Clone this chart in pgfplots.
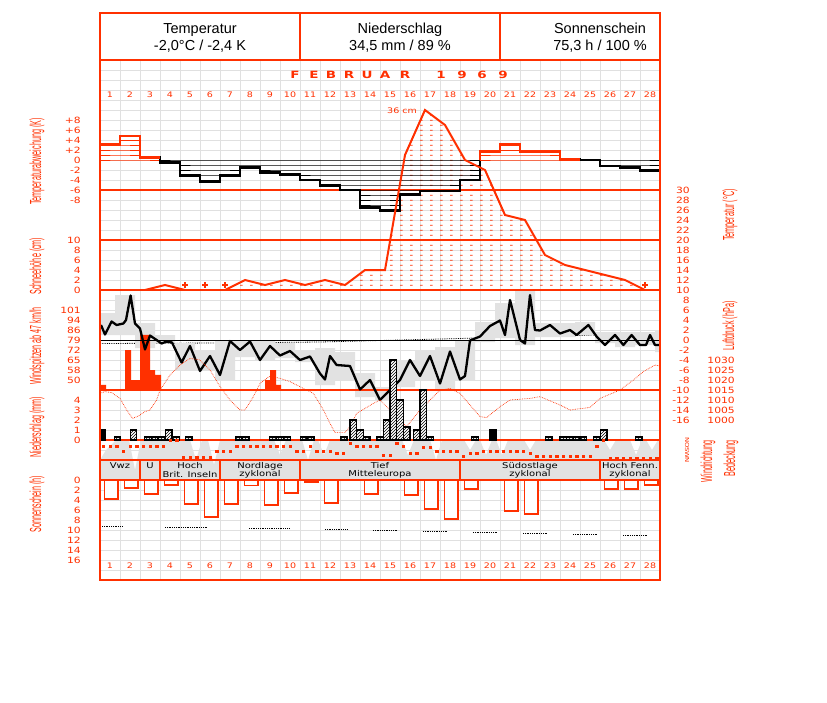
\documentclass[border=0pt]{standalone}
\usepackage{fontspec}
\setmainfont{Liberation Sans}
\newfontfamily\pixw[FakeStretch=1.25]{DejaVu Sans}
\newfontfamily\pixb[FakeStretch=1.35]{DejaVu Sans Bold}
\newfontfamily\narrow[FakeStretch=0.45]{Liberation Sans}
\usepackage{pgfplots}
\pgfplotsset{compat=1.18}
\usepackage{pgfplotstable}
\usetikzlibrary{patterns,patterns.meta}

\definecolor{dwdred}{RGB}{255,48,0}
\definecolor{gridgray}{RGB}{224,224,224}
\definecolor{blockgray}{RGB}{226,226,226}

\tikzdeclarepattern{
  name=snowdash, type=uncolored,
  bottom left={(0pt,0pt)}, top right={(10pt,5pt)}, tile size={(10pt,5pt)},
  code={\draw[line width=1pt] (0pt,2pt) -- (3pt,2pt);}
}

\pgfplotsset{
  panel/.style={scale only axis, width=560pt, height=520pt, anchor=north west,
    at={(100pt,-60pt)}, xmin=0, xmax=28, axis line style={draw=none},
    tick style={draw=none}, xtick=\empty, ytick=\empty},
  leftlab/.style={yticklabel style={font=\pixw\fontsize{8.6}{8.6}\selectfont,
    text=dwdred, anchor=east, inner sep=0pt, xshift=-19pt}},
  rightlab/.style={yticklabel pos=right, yticklabel style={font=\pixw\fontsize{8.6}{8.6}\selectfont,
    text=dwdred, anchor=east, inner sep=0pt, xshift=#1}},
}

% temperature deviation (K), one value per day, x = day-1
\pgfplotstableread{
x v
0 3.1
1 4.8
2 0.5
3 -0.5
4 -3.1
5 -4.3
6 -3.1
7 -1.5
8 -2.5
9 -2.9
10 -4.0
11 -5.1
12 -6.0
13 -9.5
14 -10.1
15 -6.9
16 -6.2
17 -6.2
18 -4.0
19 1.7
20 3.2
21 1.7
22 1.7
23 0.1
24 0.0
25 -1.2
26 -1.5
27 -2.1
28 -2.1
}\devtab

% snow depth (cm), morning values
\pgfplotstableread{
x s
0 0
2.25 0
3.25 1
4.25 0
6.25 0
7.25 2
8.25 1
9.25 2
10.25 1
11.25 2
12.25 1
13.25 4
14.25 4
15.25 27
16.25 36
17.25 33
18.25 26
19.25 24
20.25 15
21.25 14
22.25 7
23.25 5
24.25 4
25.25 3
26.25 2
27.25 0
28 0
}\snowtab

% daily temperature range (C)
\pgfplotstableread{
x tmax tmin
-0.25 5.4 1.0
0.75 9.0 1.0
1.75 3.4 -1.6
2.75 1.0 -0.6
3.75 -0.6 -6.0
4.75 -2.0 -6.0
5.75 0.0 -8.0
6.75 0.0 -3.4
7.75 0.0 -4.0
8.75 -0.6 -3.6
9.75 -2.0 -4.4
10.75 -1.6 -9.0
11.75 -2.4 -8.0
12.75 -6.6 -11.4
13.75 -9.4 -12.0
14.75 -4.0 -9.4
15.75 -2.0 -8.0
16.75 -1.4 -10.0
17.75 0.0 -8.0
18.75 3.6 -0.4
19.75 7.4 0.4
20.75 10.0 -1.0
21.75 3.4 0.6
22.75 3.4 0.6
23.75 3.6 1.0
24.75 1.6 -0.6
25.75 1.6 -1.4
26.75 1.6 -1.0
27.75 2.0 -2.4
28 2.0 -2.4
}\rangetab

% air temperature (C)
\pgfplotstableread{
x t
0.05 3.0
0.25 1.1
0.58 3.7
0.83 3.0
1.17 3.3
1.30 4.0
1.53 8.9
1.75 3.3
2.0 2.3
2.25 -1.9
2.5 0.9
2.83 0.0
3.08 -0.7
3.33 -0.3
3.6 -0.5
4.08 -4.5
4.5 -1.2
5.0 -6.2
5.5 -3.2
6.0 -7.0
6.5 -0.2
7.0 -2.0
7.5 -0.3
8.0 -4.0
8.5 -1.2
9.0 -3.1
9.5 -2.2
10.0 -4.0
10.5 -3.3
11.0 -6.7
11.25 -7.9
11.5 -3.2
11.83 -5.0
12.5 -5.2
13.0 -9.9
13.5 -8.0
14.0 -12.0
14.5 -10.0
15.0 -8.0
15.5 -4.0
16.0 -7.2
16.5 -3.2
17.0 -8.7
17.5 -2.3
18.0 -7.9
18.25 -7.2
18.5 -0.1
19.0 0.7
19.5 2.8
20.0 3.9
20.25 1.0
20.5 8.0
21.0 0.0
21.25 -0.7
21.5 9.0
21.75 2.0
22.0 1.9
22.5 3.0
23.0 1.3
23.5 2.0
23.83 1.0
24.42 3.0
24.83 0.7
25.25 -1.0
25.75 1.0
26.17 -1.0
26.58 1.0
27.0 -1.0
27.3 -1.0
27.5 1.0
27.75 -1.0
28.0 -1.0
}\temptab

% air pressure (hPa)
\pgfplotstableread{
x p
0 1013.3
0.25 1014.2
0.58 1013.7
1.0 1010.8
1.33 1005
1.63 1000.8
1.92 1002
2.25 1004.2
2.5 1005
2.83 1010
3.0 1015
3.5 1022.5
4.0 1027.5
4.5 1030.8
5.0 1030
5.5 1025
6.0 1016.7
6.5 1010
7.0 1005
7.25 1005
7.67 1011.7
8.0 1018.3
8.5 1022
9.0 1020.8
9.5 1019.2
10.17 1015.8
10.67 1013.3
11.17 1005
11.5 998.3
11.75 993.7
12.25 993.7
12.5 996.7
12.83 1003.3
13.67 1008.3
14.0 1010
14.83 1001.7
15.33 996.7
16.0 1005
16.5 1010
17.0 1015
17.5 1015.8
18.0 1013.3
18.5 1007.5
19.0 1001.7
19.33 1001.2
20.0 1006.7
20.5 1010
21.5 1010.8
22.0 1011.7
23.0 1007.5
23.5 1005
24.5 1006.3
25.0 1010.8
26.0 1015
26.67 1020
27.17 1024.2
27.75 1027.5
28.0 1027
}\presstab

% precipitation (mm), per observation interval
\pgfplotstableread{
x r
0.875 0.3
1.675 1.0
2.4 0.3
2.73 0.3
3.05 0.3
3.43 1.0
3.8 0.3
4.43 0.3
6.93 0.3
7.28 0.3
8.65 0.3
9.0 0.3
9.35 0.3
10.18 0.3
10.53 0.3
12.18 0.3
12.67 2.0
13.0 1.0
13.33 0.3
14.0 0.3
14.33 2.0
14.67 8.0
15.0 4.0
15.33 1.3
15.83 1.0
16.17 5.0
16.5 0.3
18.75 0.3
22.43 0.3
23.15 0.3
23.5 0.3
23.85 0.3
24.15 0.3
24.83 0.3
25.18 1.0
26.93 0.3
}\prectab

% cloud cover (octas)
\pgfplotstableread{
x c
0 4
0.3 6
0.8 8
1.45 8
1.75 2
2.05 8
4.5 8
4.8 4
5.1 8
5.4 8
5.7 3
6.0 8
8.7 8
9.0 5
9.3 8
10.1 8
10.4 4
10.7 8
10.9 8
11.2 5
11.5 8
15.1 8
15.4 5
15.7 8
16.5 8
16.8 4
17.1 8
18.2 8
18.5 6
18.8 8
19.0 8
19.3 5
19.6 8
19.8 8
20.1 5
20.4 8
21.2 8
21.5 6
21.8 8
25.2 8
25.5 6
25.8 8
26.5 8
26.8 5
27.1 8
27.3 8
27.6 6
27.9 8
28 8
}\cloudtab

% wind direction (degrees), three observations a day
\pgfplotstableread{
x dir
0.167 108
0.5 108
0.833 108
1.167 198
1.5 108
1.833 108
2.167 108
2.5 108
2.833 108
3.167 108
3.5 0
3.833 0
4.167 306
4.5 306
4.833 306
5.167 306
5.5 306
5.833 198
6.167 198
6.5 198
6.833 108
7.167 108
7.5 108
7.833 108
8.167 108
8.5 108
8.833 108
9.167 108
9.5 108
9.833 198
10.167 198
10.5 108
10.833 198
11.167 198
11.5 198
11.833 234
12.167 234
12.5 54
12.833 108
13.167 108
13.5 108
13.833 108
14.167 270
14.5 270
14.833 54
15.167 108
15.5 234
15.833 234
16.167 126
16.5 126
16.833 198
17.167 198
17.5 198
17.833 198
18.167 288
18.5 234
18.833 234
19.167 198
19.5 198
19.833 198
20.167 198
20.5 198
20.833 198
21.167 198
21.5 234
21.833 288
22.167 288
22.5 288
22.833 288
23.167 288
23.5 288
23.833 288
24.167 288
24.5 288
24.833 108
25.167 0
25.5 324
25.833 324
26.167 324
26.5 324
26.833 324
27.167 324
27.5 324
27.833 324
}\wdtab

% sunshine duration (h)
\pgfplotstableread{
x h
0.525 3.7
1.525 1.5
2.525 2.7
3.525 0.9
4.525 4.7
5.525 7.3
6.525 4.7
7.525 1.0
8.525 4.9
9.525 2.5
10.525 0.3
11.525 4.5
13.525 2.7
15.525 2.9
16.525 5.7
17.525 7.7
18.525 1.7
20.525 6.1
21.525 6.7
25.525 1.7
26.525 1.7
27.525 0.9
}\suntab

\begin{document}
\begin{tikzpicture}
\useasboundingbox (0pt,0pt) rectangle (827pt,-702pt);
\fill[white] (0pt,0pt) rectangle (827pt,-702pt);

% grid
\begin{axis}[panel, ymin=0, ymax=52, xtick={0,...,28}, ytick={0,...,52},
  xticklabels={}, yticklabels={}, xmajorgrids, ymajorgrids,
  major grid style={draw=gridgray, line width=1pt}]
\addplot[draw=none] coordinates {(0,0)(28,52)};
\end{axis}

% normal temperature
\begin{axis}[panel, ymin=-48, ymax=56]
\addplot[black, line width=0.8pt, densely dotted] coordinates {(0,-0.7)(6,-0.6)(11,-0.4)(13,-0.2)(16,0.1)(18,0.3)(19.5,0.5)(22,0.7)(24,0.9)(26,1.2)(28,1.4)};
\end{axis}

% daily temperature range as stacked area
\begin{axis}[panel, ymin=-48, ymax=56, stack plots=y]
\addplot[draw=none, const plot] table[x=x, y=tmin] {\rangetab};
\addplot[draw=none, fill=blockgray, const plot] table[x=x, y expr={\thisrow{tmax}-\thisrow{tmin}}] {\rangetab} \closedcycle;
\end{axis}

% cloud cover
\begin{axis}[panel, ymin=-20, ymax=84]
\addplot[fill=blockgray, draw=none] table[x=x, y=c] {\cloudtab} \closedcycle;
\end{axis}

\begin{scope}[x=1pt, y=-1pt]
\foreach \yy in {190,240,290,390,440,460,480}
  \draw[dwdred, line width=1.3pt] (100,\yy) -- (660,\yy);
\end{scope}

% snow fill
\begin{axis}[panel, ymin=-58, ymax=46, leftlab, ytick={0,2,...,10},
  yticklabels={0,2,4,6,8,10}]
\addplot[draw=none, pattern=snowdash, pattern color=dwdred] table[x=x, y=s] {\snowtab} \closedcycle;
\end{axis}

% temperature deviation
\begin{axis}[panel, ymin=-84, ymax=20, leftlab, ytick={-8,-6,...,8},
  yticklabels={-8,-6,-4,-2,0,+2,+4,+6,+8}]
\pgfplotsinvokeforeach{0,-1,-2,-3,-4,-5,-6,-7,-8,-9,-10}{
  \addplot[black, line width=0.8pt, const plot] table[x=x, y expr={max(\thisrow{v},#1)}] {\devtab};
}
\pgfplotsinvokeforeach{0,1,2,3,4}{
  \addplot[dwdred, line width=0.8pt, const plot] table[x=x, y expr={min(\thisrow{v},#1)}] {\devtab};
}
\addplot[black, line width=2.6pt, const plot] table[x=x, y=v] {\devtab};
\addplot[dwdred, line width=2.6pt, const plot] coordinates {(0,3.1)(1,4.8)(2,0.5)(3,0.5)};
\addplot[dwdred, line width=2.6pt, const plot] coordinates {(18.99,0)(19,1.7)(20,3.2)(21,1.7)(22,1.7)(23,0.1)(24,0.1)};
\end{axis}

% snow line
\begin{axis}[panel, ymin=-58, ymax=46]
\addplot[dwdred, line width=2pt, restrict x to domain=2.2:4.3] table[x=x, y=s] {\snowtab};
\addplot[dwdred, line width=2pt, restrict x to domain=6.2:27.3] table[x=x, y=s] {\snowtab};
\addplot[dwdred, only marks, mark=+, mark size=3pt, line width=1.2pt] coordinates {(4.25,1)(5.25,1)(6.25,1)(27.25,1)};
\end{axis}

% wind gusts
\begin{axis}[panel, at={(100pt,-290pt)}, height=100pt, ymin=42.7, ymax=115.7, leftlab,
  ytick={50,57.3,64.6,71.9,79.2,86.5,93.8,101.1}, yticklabels={50,58,65,72,79,86,94,101}]
\addplot[ybar interval, fill=dwdred, draw=none] coordinates {(0,46.4)(0.3,40)(1.25,71.9)(1.55,50)(2.0,82.9)(2.5,57.3)(2.75,53.7)(3.05,40)(8.25,50)(8.5,57.3)(8.8,46.4)(9.05,40)(28,40)};
\end{axis}

% air temperature
\begin{axis}[panel, ymin=-48, ymax=56, rightlab=30pt, ytick={-16,-14,...,30},
  yticklabels={-16,-14,-12,-10,-8,-6,-4,-2,0,2,4,6,8,10,12,14,16,18,20,22,24,26,28,30}]
\addplot[black, line width=0.8pt] coordinates {(0,0)(28,0)};
\addplot[black, line width=2.3pt, line join=round] table[x=x, y=t] {\temptab};
\end{axis}

% air pressure
\begin{axis}[panel, ymin=920, ymax=1180, rightlab=75pt, ytick={1000,1005,...,1030},
  yticklabels={1000,1005,1010,1015,1020,1025,1030}]
\addplot[dwdred, line width=0.7pt, densely dotted] table[x=x, y=p] {\presstab};
\end{axis}

% precipitation
\begin{axis}[panel, ymin=-14, ymax=38, leftlab, ytick={0,...,4}, yticklabels={0,1,2,3,4}]
\addplot[ybar, bar width=0.3333, bar shift=0pt, fill=white, draw=none] table[x=x, y=r] {\prectab};
\addplot[ybar, bar width=0.3333, bar shift=0pt, pattern=north east lines, draw=black, line width=1.3pt] table[x=x, y=r] {\prectab};
\addplot[ybar, bar width=0.3333, bar shift=0pt, fill=black, draw=black, line width=1.3pt] coordinates {(0.1,1.0)(19.67,1.0)};
\end{axis}

% wind direction
\begin{axis}[panel, ymin=-6840, ymax=2520, y dir=reverse]
\addplot[only marks, mark=square*, mark size=1.1pt, dwdred] table[x=x, y=dir] {\wdtab};
\end{axis}

% sunshine
\begin{axis}[panel, ymin=-84, ymax=20, y dir=reverse, leftlab, ytick={0,2,...,16},
  yticklabels={0,2,4,6,8,10,12,14,16}]
\addplot[ybar, bar width=0.65, bar shift=1pt, draw=dwdred, line width=2.2pt, fill=dwdred] table[x=x, y=h] {\suntab};
\addplot[ybar, bar width=0.65, bar shift=0pt, draw=dwdred, line width=0.8pt, fill=white] table[x=x, y=h] {\suntab};
\addplot[black, line width=0.8pt, densely dotted, unbounded coords=jump] coordinates {
 (0.1,9.2)(1.1,9.2)(2,nan)(3.25,9.5)(5.35,9.5)(6,nan)(7.45,9.7)(9.5,9.7)(10,nan)
 (11.25,9.9)(12.4,9.9)(13,nan)(13.65,10)(14.9,10)(15.5,nan)(16.15,10.2)(17.4,10.2)(18,nan)
 (18.65,10.4)(19.85,10.4)(20.5,nan)(21.15,10.6)(22.35,10.6)(23,nan)(23.65,10.8)(24.9,10.8)(25.5,nan)
 (26.15,11.0)(27.4,11.0)};
\end{axis}

\begin{scope}[x=1pt, y=-1pt]
% weather type boxes
\foreach \xx in {140,160,220,300,460,600}
  \draw[dwdred, line width=1.3pt] (\xx,460) -- (\xx,480);
\begin{scope}[font=\pixw\fontsize{8}{8.2}\selectfont, black]
\node at (120,466) {Vwz};
\node at (150,466) {U};
\node[align=center] at (190,470) {Hoch\\Brit. Inseln};
\node[align=center] at (260,470) {Nordlage\\zyklonal};
\node[align=center] at (380,470) {Tief\\Mitteleuropa};
\node[align=center] at (530,470) {S\"udostlage\\zyklonal};
\node[align=center] at (630,470) {Hoch Fenn.\\zyklonal};
\end{scope}
% header and frame
\draw[dwdred, line width=1.3pt] (100,60) -- (660,60);
\draw[dwdred, line width=1.3pt] (300,13) -- (300,60) (500,13) -- (500,60);
\draw[dwdred, line width=1.5pt] (100,13) rectangle (660,580);
\begin{scope}[font=\fontsize{14.5}{17}\selectfont]
\node[align=center] at (200,38) {Temperatur\\-2,0°C / -2,4 K};
\node[align=center] at (400,38) {Niederschlag\\34,5 mm / 89 \%};
\node[align=center] at (600,38) {Sonnenschein\\75,3 h / 100 \%};
\end{scope}
% month title
\begin{scope}[font=\pixb\fontsize{10}{10}\selectfont, text=dwdred]
\foreach \ch/\xx in {F/295,E/314,B/331,R/349,U/367,A/385,R/405,1/441,9/462,6/482,9/503}
  \node at (\xx,75) {\ch};
\end{scope}
% day numbers
\begin{scope}[font=\pixw\fontsize{7.6}{8}\selectfont, text=dwdred]
\foreach \d in {1,...,28} {
  \node at ({110+20*(\d-1)},95) {\d};
  \node at ({110+20*(\d-1)},565.5) {\d};
}
\node at (402,111) {36 cm};
\end{scope}
% wind direction scale
\begin{scope}[font=\pixw\fontsize{5.5}{5.5}\selectfont, text=dwdred]
\foreach \ch/\yy in {N/440,O/445,S/450,W/455,N/460}
  \node[rotate=-90, inner sep=0pt] at (687,\yy) {\ch};
\end{scope}
% axis titles
\begin{scope}[font=\narrow\fontsize{16}{16}\selectfont, text=dwdred]
\node[rotate=90] at (37,161.5) {Temperaturabweichung (K)};
\node[rotate=90] at (37,266) {Schneehöhe (cm)};
\node[rotate=90] at (37,346) {Windspitzen ab 47 km/h};
\node[rotate=90] at (37,427) {Niederschlag (mm)};
\node[rotate=90] at (37,504) {Sonnenschein (h)};
\node[rotate=90] at (730,215) {Temperatur (°C)};
\node[rotate=90] at (730,326) {Luftdruck (hPa)};
\node[rotate=90] at (708,461) {Windrichtung};
\node[rotate=90] at (731,458) {Bedeckung};
\end{scope}
\end{scope}
\end{tikzpicture}
\end{document}
